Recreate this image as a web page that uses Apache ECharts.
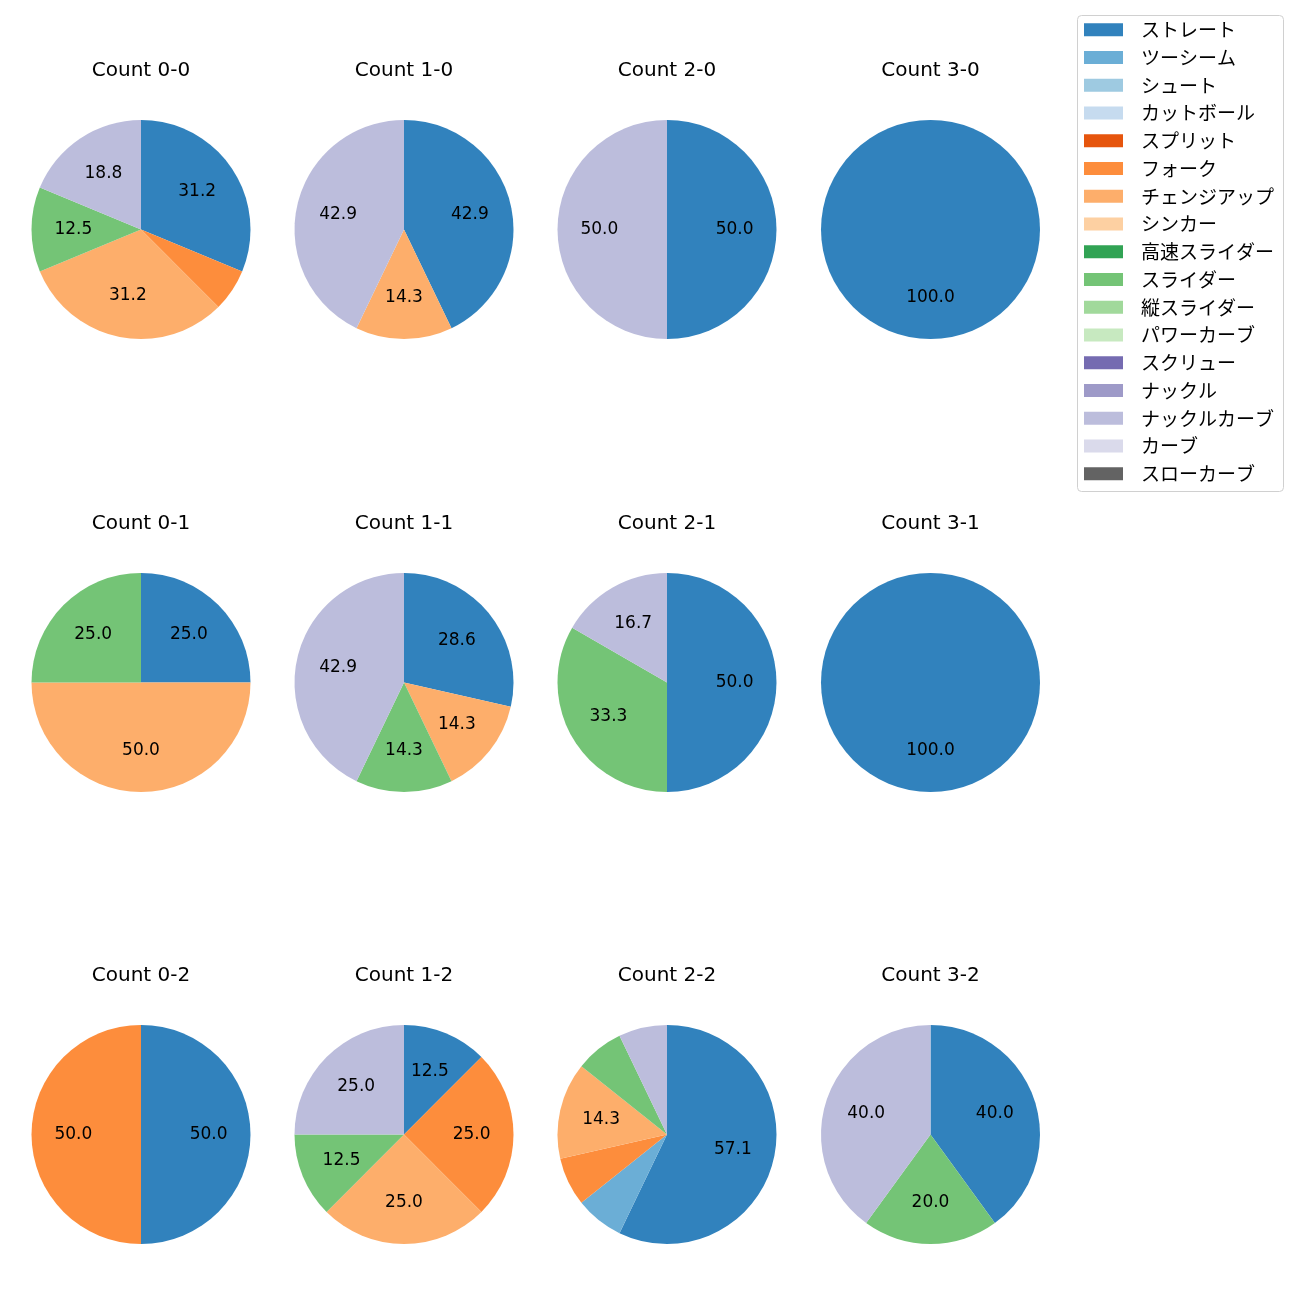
<!DOCTYPE html>
<html>
<head>
<meta charset="utf-8">
<script src="https://cdn.jsdelivr.net/npm/echarts@6/dist/echarts.min.js"></script>
<style>html,body{margin:0;padding:0;background:#fff;}#c{width:1300px;height:1300px;}</style>
</head>
<body>
<div id="c"></div>
<script>
// Pitch types (legend order) and colours
var pitchTypes = ['ストレート','ツーシーム','シュート','カットボール','スプリット','フォーク','チェンジアップ','シンカー','高速スライダー','スライダー','縦スライダー','パワーカーブ','スクリュー','ナックル','ナックルカーブ','カーブ','スローカーブ'];
var pitchColors = ['#3182bd','#6baed6','#9ecae1','#c6dbef','#e6550d','#fd8d3c','#fdae6b','#fdd0a2','#31a354','#74c476','#a1d99b','#c7e9c0','#756bb1','#9e9ac8','#bcbddc','#dadaeb','#636363'];

// Panel titles (row = strikes, col = balls)
var panelTitles = [
  ['Count 0-0','Count 1-0','Count 2-0','Count 3-0'],
  ['Count 0-1','Count 1-1','Count 2-1','Count 3-1'],
  ['Count 0-2','Count 1-2','Count 2-2','Count 3-2']
];

// Pitch counts per panel: [pitch type, count]
var count00 = [['ストレート',5],['フォーク',1],['チェンジアップ',5],['スライダー',2],['ナックルカーブ',3]];
var count10 = [['ストレート',3],['チェンジアップ',1],['ナックルカーブ',3]];
var count20 = [['ストレート',1],['ナックルカーブ',1]];
var count30 = [['ストレート',1]];
var count01 = [['ストレート',1],['チェンジアップ',2],['スライダー',1]];
var count11 = [['ストレート',2],['チェンジアップ',1],['スライダー',1],['ナックルカーブ',3]];
var count21 = [['ストレート',3],['スライダー',2],['ナックルカーブ',1]];
var count31 = [['ストレート',1]];
var count02 = [['ストレート',1],['フォーク',1]];
var count12 = [['ストレート',1],['フォーク',2],['チェンジアップ',2],['スライダー',1],['ナックルカーブ',2]];
var count22 = [['ストレート',8],['ツーシーム',1],['フォーク',1],['チェンジアップ',2],['スライダー',1],['ナックルカーブ',1]];
var count32 = [['ストレート',2],['スライダー',1],['ナックルカーブ',2]];

var panelData = [
  [count00, count10, count20, count30],
  [count01, count11, count21, count31],
  [count02, count12, count22, count32]
];

var colX = [141, 404, 667, 930.5];
var rowY = [229.5, 682.5, 1134.5];
var titleY = [71, 523.5, 976];
var R = 109.5;

function colorOf(name){ return pitchColors[pitchTypes.indexOf(name)]; }
function fmtPct(p){
  var x = p * 10, f = Math.floor(x + 1e-9), d = x - f, n;
  if (Math.abs(d - 0.5) < 1e-7) n = (f % 2 === 0) ? f : f + 1; else n = Math.round(x);
  return (n / 10).toFixed(1);
}

var FONT = '"DejaVu Sans", "Noto Sans CJK JP", sans-serif';
var JFONT = '"Noto Sans CJK JP", "DejaVu Sans", sans-serif';
var series = [];
var graphics = [{
  type: 'rect', shape: { x: 1077.5, y: 15.5, width: 206, height: 476, r: 4 },
  style: { fill: '#fff', stroke: '#d0d0d0', lineWidth: 1 }, z: -1, silent: true
}];

for (var r = 0; r < 3; r++) {
  for (var c = 0; c < 4; c++) {
    var d = panelData[r][c];
    var total = d.reduce(function(s, e){ return s + e[1]; }, 0);
    var items = d.map(function(e){ return { name: e[0], value: e[1], itemStyle: { color: colorOf(e[0]) } }; });
    var center = [colX[c], rowY[r]];
    series.push({
      type: 'pie', center: center, radius: [0, R], startAngle: 90, clockwise: true,
      avoidLabelOverlap: false, silent: true, animation: false,
      label: { show: false }, labelLine: { show: false },
      itemStyle: { borderWidth: 0 },
      emphasis: { disabled: true },
      data: items
    });
    (function(tot){
      series.push({
        type: 'pie', center: center, radius: [R * 0.18, R], startAngle: 90, clockwise: true,
        avoidLabelOverlap: false, silent: true, animation: false,
        itemStyle: { color: 'rgba(0,0,0,0)', borderWidth: 0 },
        labelLine: { show: false },
        emphasis: { disabled: true },
        label: {
          show: true, position: 'inside', color: '#000', fontSize: 17, fontFamily: FONT,
          formatter: function(p){ var pct = p.value / tot * 100; return pct >= 10 ? fmtPct(pct) : ''; }
        },
        data: d.map(function(e){ return { name: e[0], value: e[1] }; })
      });
    })(total);
    graphics.push({
      type: 'text', x: colX[c], y: titleY[r], silent: true,
      style: { text: panelTitles[r][c], textAlign: 'center', textVerticalAlign: 'middle',
               fontSize: 20, fontFamily: FONT, fill: '#000' }
    });
  }
}

// Hidden series so that every pitch type appears in the legend
series.push({
  type: 'pie', center: [-100, -100], radius: [0, 0], silent: true, animation: false,
  label: { show: false }, labelLine: { show: false },
  data: pitchTypes.map(function(n, i){ return { name: n, value: 1, itemStyle: { color: pitchColors[i] } }; })
});

var chart = echarts.init(document.getElementById('c'), null, { renderer: 'canvas' });
chart.setOption({
  backgroundColor: '#fff',
  animation: false,
  graphic: graphics,
  legend: {
    orient: 'vertical', left: 1084, top: 20.3, padding: 0,
    itemWidth: 39, itemHeight: 13, itemGap: 8.75, icon: 'rect',
    selectedMode: false,
    textStyle: { fontSize: 19, lineHeight: 18, color: '#000', fontFamily: JFONT, padding: [0, 0, 0, 13] },
    data: pitchTypes
  },
  series: series
});
</script>
</body>
</html>
